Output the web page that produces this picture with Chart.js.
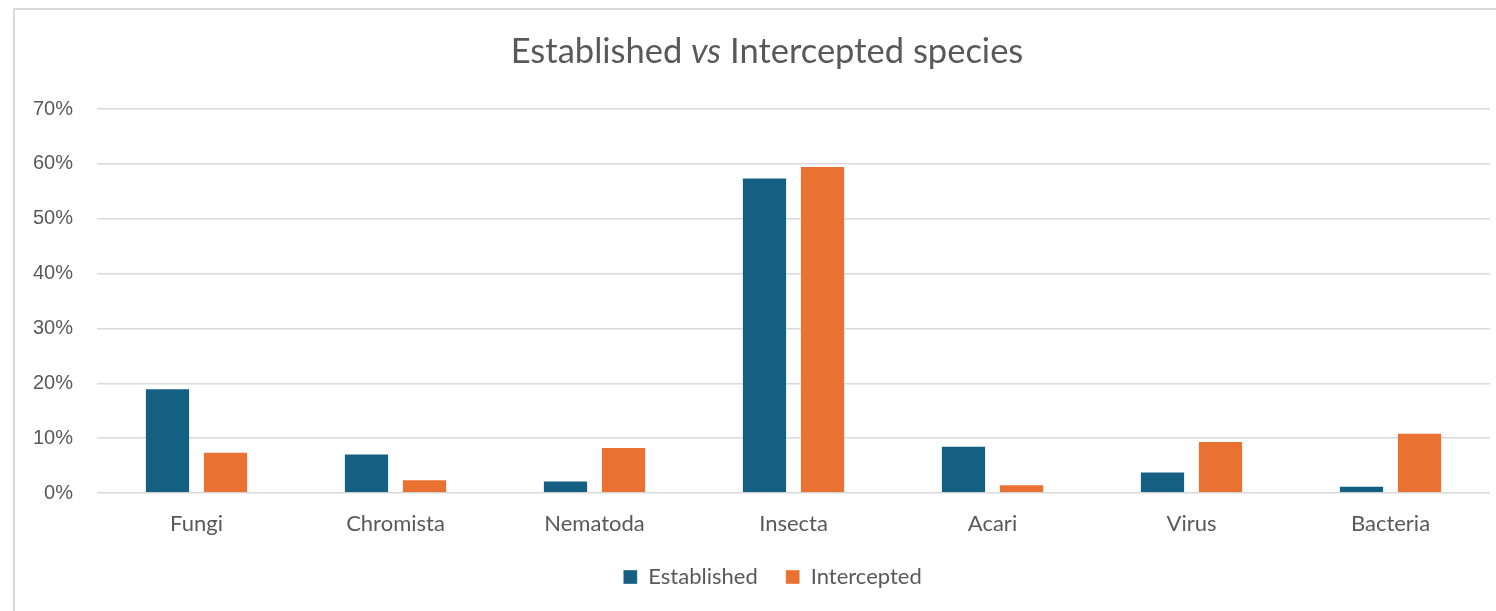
<!DOCTYPE html>
<html>
<head>
<meta charset="utf-8">
<script src="https://cdn.jsdelivr.net/npm/chart.js@4.4.0/dist/chart.umd.min.js"></script>
<style>
  html, body { margin: 0; padding: 0; background: #ffffff; overflow: hidden; }
  body { width: 1496px; height: 611px; position: relative; }
  #frame {
    position: absolute; left: 13px; top: 8px; width: 1500px; height: 620px;
    border-top: 2px solid #dadada; border-left: 2px solid #dadada;
  }
  #wrap { position: absolute; left: 0; top: 0; width: 1496px; height: 620px; }
</style>
</head>
<body>
<div id="frame"></div>
<div id="wrap"><canvas id="chart" width="1496" height="620"></canvas></div>
<script>
// Share of species per taxonomic group (fractions of 1)
const categories = ['Fungi', 'Chromista', 'Nematoda', 'Insecta', 'Acari', 'Virus', 'Bacteria'];
const established = [0.191, 0.072, 0.023, 0.575, 0.086, 0.039, 0.013];
const intercepted = [0.075, 0.025, 0.084, 0.596, 0.016, 0.095, 0.110];
const seriesNames = ['Established', 'Intercepted'];
const yTicks = [0, 0.1, 0.2, 0.3, 0.4, 0.5, 0.6, 0.7];

const GREY_TEXT = '#595959';
const LABEL_FONT = 'Lato, "Open Sans", sans-serif';

// Title with an italic "vs", drawn in three runs and centred as one line
const titlePlugin = {
  id: 'mixedTitle',
  afterDraw(chart) {
    const ctx = chart.ctx;
    const parts = [
      { text: 'Established ', style: 'normal' },
      { text: 'vs', style: 'italic' },
      { text: ' Intercepted species', style: 'normal' }
    ];
    const size = 34.5;
    ctx.save();
    ctx.fillStyle = GREY_TEXT;
    ctx.textBaseline = 'alphabetic';
    ctx.textAlign = 'left';
    let total = 0;
    parts.forEach(p => {
      ctx.font = p.style + ' 400 ' + size + 'px ' + LABEL_FONT;
      p.w = ctx.measureText(p.text).width;
      total += p.w;
    });
    let x = 767 - total / 2;
    parts.forEach(p => {
      ctx.font = p.style + ' 400 ' + size + 'px ' + LABEL_FONT;
      ctx.fillText(p.text, x, 63);
      x += p.w;
    });
    ctx.restore();
  }
};

// Centre the legend row slightly right of the canvas middle
const legendShift = {
  id: 'legendShift',
  afterLayout(chart) {
    if (chart.legend) {
      chart.legend.left += 20;
      chart.legend.right += 20;
    }
  }
};

new Chart(document.getElementById('chart'), {
  type: 'bar',
  data: {
    labels: categories,
    datasets: [
      {
        label: seriesNames[0],
        data: established,
        backgroundColor: '#156082',
        borderColor: 'rgba(255,255,255,0.35)',
        borderWidth: 1,
        categoryPercentage: 0.583,
        barPercentage: 0.78
      },
      {
        label: seriesNames[1],
        data: intercepted,
        backgroundColor: '#E97132',
        borderColor: 'rgba(255,255,255,0.35)',
        borderWidth: 1,
        categoryPercentage: 0.583,
        barPercentage: 0.78
      }
    ]
  },
  options: {
    responsive: false,
    animation: false,
    devicePixelRatio: 1,
    layout: { padding: { top: 109, left: 15, right: 6, bottom: 22 } },
    plugins: {
      title: { display: false },
      tooltip: { enabled: false },
      legend: {
        display: true,
        position: 'bottom',
        labels: {
          boxWidth: 14,
          boxHeight: 14,
          padding: 28,
          color: GREY_TEXT,
          font: { family: LABEL_FONT, size: 22 }
        }
      }
    },
    scales: {
      x: {
        grid: { display: false, drawTicks: false },
        border: { display: false },
        ticks: {
          color: GREY_TEXT,
          padding: 18,
          font: { family: LABEL_FONT, size: 22 }
        },
        afterFit(scale) { scale.height = 45; }
      },
      y: {
        min: 0,
        max: 0.7,
        afterBuildTicks(scale) { scale.ticks = yTicks.map(v => ({ value: v })); },
        grid: { color: '#d9d9d9', lineWidth: 1.5, drawTicks: false },
        border: { display: false },
        ticks: {
          color: GREY_TEXT,
          padding: 24,
          font: { family: '"Liberation Sans", Arial, sans-serif', size: 20 },
          callback: v => Math.round(v * 100) + '%'
        },
        afterFit(scale) { scale.width = 82; }
      }
    }
  },
  plugins: [titlePlugin, legendShift]
});
</script>
</body>
</html>
